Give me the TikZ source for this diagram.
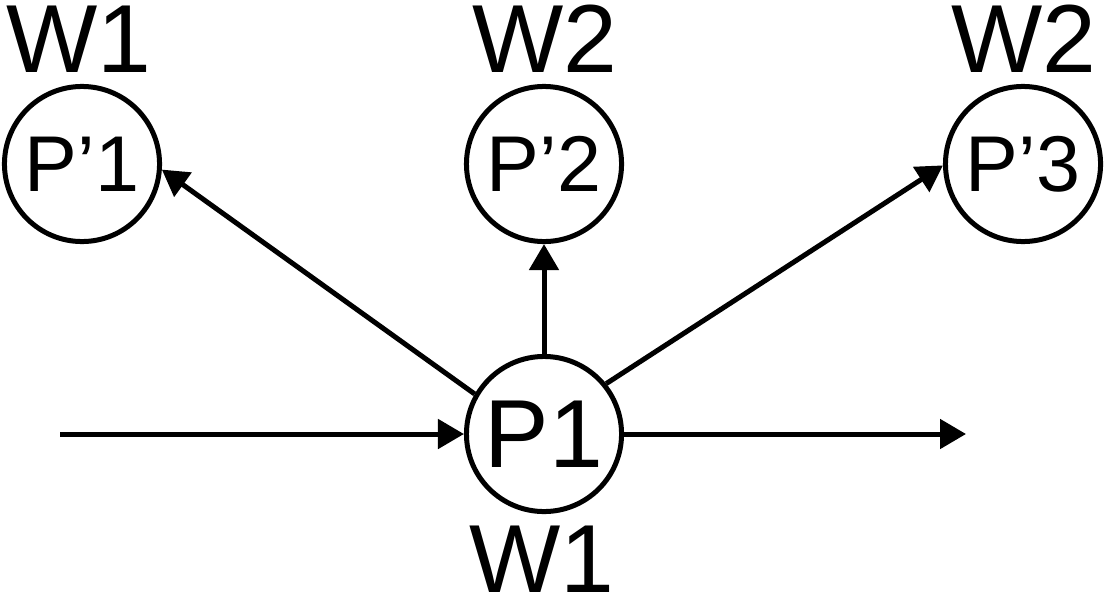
\documentclass[tikz,border=0pt]{standalone}
\usepackage{fontspec}
\setmainfont{Liberation Sans}
\usetikzlibrary{arrows.meta}
\begin{document}
\begin{tikzpicture}[x=0.01cm,y=-0.01cm,
  proc/.style={draw,circle,line width=0.05cm,minimum size=1.55cm,inner sep=0pt},
  big/.style={font=\fontsize{27.5}{30}\selectfont},
  lbl/.style={big,anchor=base,inner sep=0pt},
  small/.style={font=\fontsize{22.5}{26}\selectfont},
  conn/.style={line width=0.05cm,-{Triangle[length=0.26cm,width=0.29cm]}}]
\useasboundingbox (0,0) rectangle (1104,600);
\node[proc,small] (q1) at (82,164) {\raisebox{-0.07cm}{P’1}};
\node[proc,small] (q2) at (544,164) {\raisebox{-0.07cm}{P’2}};
\node[proc,small] (q3) at (1023,164) {\raisebox{-0.07cm}{P’3}};
\node[proc,big] (p1) at (544,434) {P1};
\node[lbl] (w1a) at (79,72) {W1};
\node[lbl] (w2a) at (545,72) {W2};
\node[lbl] (w2b) at (1024,72) {W2};
\node[lbl] (w1b) at (542,592) {W1};
\coordinate (in) at (60,434);
\coordinate (out) at (966,434);
\draw[conn] (in) -- (p1.west);
\draw[conn] (p1.east) -- (out);
\draw[conn] (p1.north) -- (q2.south);
\draw[conn] (p1.150) -- (q1.-4);
\draw[conn] (p1.39) -- (q3.181);
\end{tikzpicture}
\end{document}
